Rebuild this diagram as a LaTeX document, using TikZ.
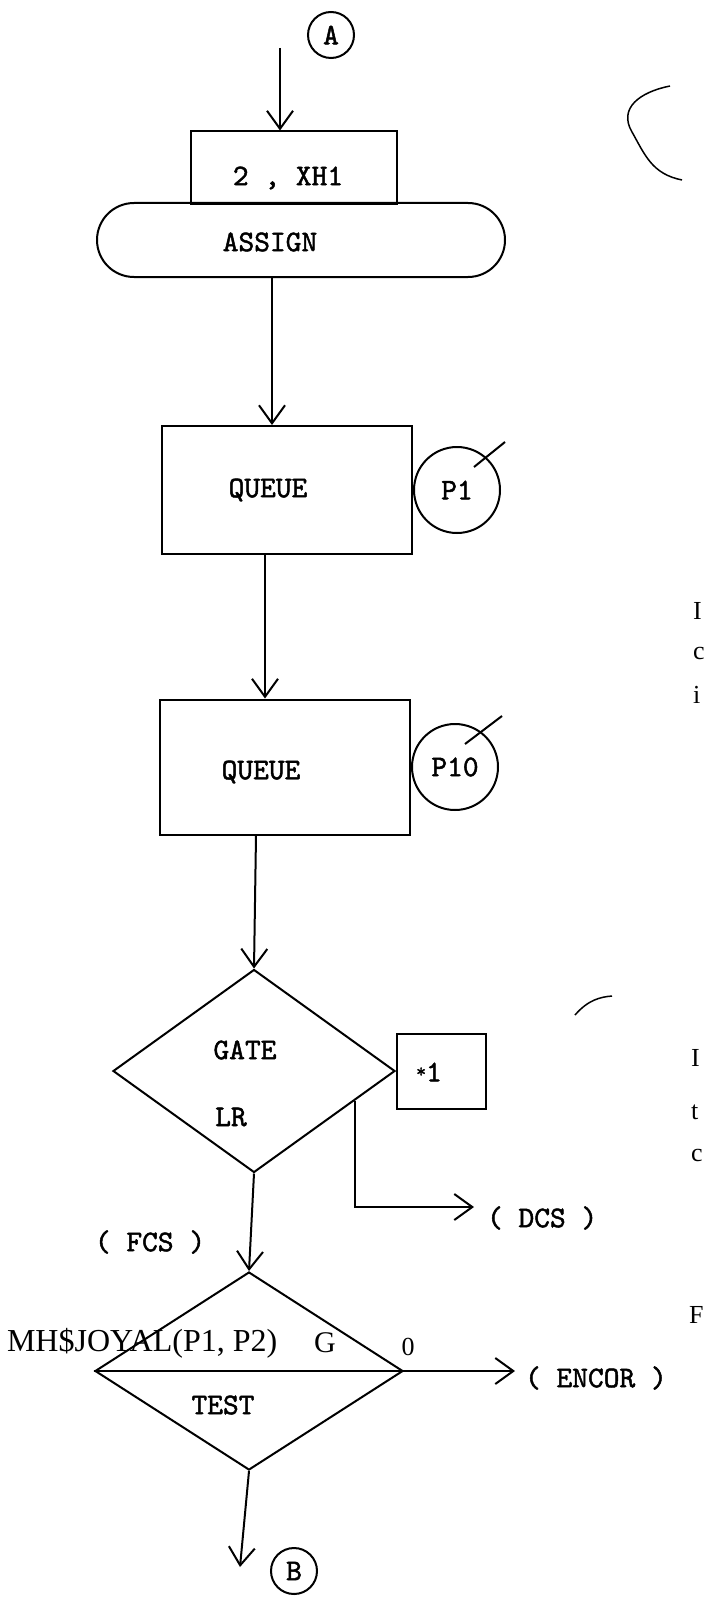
\documentclass[tikz,border=0pt]{standalone}
\usepackage{fontspec}
\setmainfont{Liberation Serif}
\newfontfamily\typer{lmmono10-regular.otf}[FakeBold=1.6]
\usetikzlibrary{arrows.meta, shapes.geometric, positioning, calc}

\begin{document}
\begin{tikzpicture}[x=1pt, y=-1pt, line width=2pt,
    every node/.style={font=\typer\fontsize{30}{34}\selectfont, inner sep=0pt},
    blockbox/.style={draw, rectangle},
    parmcircle/.style={draw, circle, minimum size=86pt},
    connector/.style={draw, circle, minimum size=46pt},
    decide/.style={draw, diamond},
    flow/.style={-{Straight Barb[length=18pt, width=26pt]}},
    scrap/.style={font=\fontsize{26}{30}\selectfont, anchor=west}]
  \useasboundingbox (0,0) rectangle (711,1597);

  % entry and assign block
  \node[connector] (conA) at (331,35) {A};
  \coordinate (inA) at (280,48);
  \node[blockbox, minimum width=206pt, minimum height=73pt] (xhbox) at (294,168) {};
  \node (xhtext) at (288,178) {2 , XH1};
  \node[draw, rounded corners=37pt, minimum width=408pt, minimum height=74pt] (assign) at (301,240) {};
  \node (assigntext) at (270,242) {ASSIGN};
  \draw[flow] (inA) -- (inA |- xhbox.north);

  % the two queues
  \node[blockbox, minimum width=250pt, minimum height=128pt] (queueone) at (287,490) {};
  \node (queueonetext) at (268,490) {QUEUE};
  \node[parmcircle, right=0pt of queueone.east] (pone) {P1};
  \node[blockbox, minimum width=250pt, minimum height=135pt] (queuetwo) at (285,767) {};
  \node (queuetwotext) at (261,772) {QUEUE};
  \node[parmcircle, right=0pt of queuetwo.east] (pten) {P10};
  \draw ($(pone.center)+(17,-23)$) -- ++(31,-25);
  \draw ($(pten.center)+(10,-23)$) -- ++(37,-28);
  \draw[flow] ([xshift=-29pt]assign.south) -- ([xshift=-15pt]queueone.north);
  \draw[flow] ([xshift=-22pt]queueone.south) -- ([xshift=-20pt]queuetwo.north);

  % gate and test
  \node[decide, minimum width=282pt, minimum height=203pt] (gate) at (254,1071) {};
  \node (gatetext) at (245,1050) {GATE};
  \node (lrtext) at (231,1117) {LR};
  \node[blockbox, minimum width=89pt, minimum height=75pt, right=0pt of gate.east] (starbox) {};
  \node (startext) at (429,1072) {\raisebox{4pt}{\fontsize{19}{21}\selectfont*}1};
  \draw[flow] ([xshift=-29pt]queuetwo.south) -- (gate.north);
  \coordinate (dcsend) at (474,1207);
  \node[anchor=west] (dcstext) at (486,1218) {( DCS )};
  \draw[flow] ($(gate.east)!0.29!(gate.south)$) |- (dcsend);

  \node[decide, minimum width=308pt, minimum height=198pt] (test) at (249,1371) {};
  \draw (test.west) -- (test.east);
  \node (testtext) at (223,1405) {TEST};
  \node (fcstext) at (150,1242) {( FCS )};
  \draw[flow] (gate.south) -- (test.north);
  \node[anchor=west, font=\fontsize{32}{36}\selectfont] (mhtext) at (6,1343) {MH\$JOYAL(P1, P2)};
  \node[font=\fontsize{30}{34}\selectfont] (gtext) at (325,1343) {G};
  \node[font=\fontsize{26}{30}\selectfont] (zerotext) at (408,1347) {0};
  \coordinate (encorend) at (515,1371);
  \node[anchor=west] (encortext) at (524,1378) {( ENCOR )};
  \draw[flow] (test.east) -- (encorend);
  \node[connector] (conB) at (294,1571) {B};
  \coordinate (outB) at (240,1567);
  \draw[flow] (test.south) -- (outB);

  % scraps of the facing page
  \draw[line width=1.5pt] (670,86) .. controls (640,92) and (618,108) .. (632,132)
    .. controls (645,155) and (652,174) .. (682,180);
  \draw[line width=1.5pt] (575,1015) .. controls (588,1000) and (600,997) .. (612,996);
  \node[scrap] (scrapa) at (692,611) {I};
  \node[scrap] (scrapb) at (692,653) {c};
  \node[scrap] (scrapc) at (692,695) {i};
  \node[scrap] (scrapd) at (690,1058) {I};
  \node[scrap] (scrape) at (690,1112) {t};
  \node[scrap] (scrapf) at (690,1155) {c};
  \node[scrap] (scrapg) at (688,1315) {F};
\end{tikzpicture}
\end{document}
